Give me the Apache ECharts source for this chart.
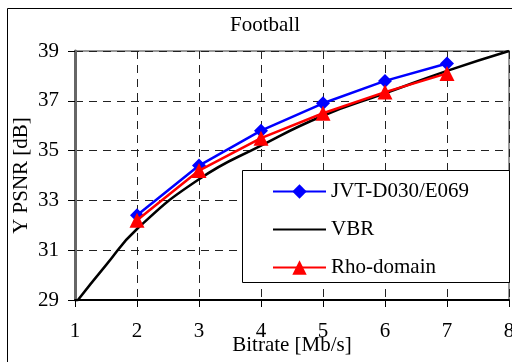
<!DOCTYPE html>
<html><head><meta charset="utf-8">
<script src="https://cdn.jsdelivr.net/npm/echarts@6/dist/echarts.min.js"></script>
<style>html,body{margin:0;padding:0;background:#fff}#c{width:512px;height:362px}</style>
</head><body><div id="c"></div>
<script>
const titleText = 'Football';
const seriesNames = ['JVT-D030/E069', 'VBR', 'Rho-domain'];
const jvtX = [2, 3, 4, 5, 6, 7];
const jvtY = [32.4, 34.4, 35.8, 36.9, 37.8, 38.5];
const rhoX = [2, 3, 4, 5, 6, 7];
const rhoY = [32.2, 34.2, 35.5, 36.5, 37.35, 38.1];
const vbrX = [1, 1.5, 2, 3, 4, 5, 6, 7, 8];
const vbrY = [28.85, 30.4, 31.85, 33.85, 35.2, 36.4, 37.3, 38.2, 39.0];
const xTicks = [1, 2, 3, 4, 5, 6, 7, 8];
const yTicks = [29, 31, 33, 35, 37, 39];

const zip = (a, b) => a.map((v, i) => [v, b[i]]);
const font = 'Liberation Serif, Times New Roman, serif';
const chart = echarts.init(document.getElementById('c'), null, {renderer: 'canvas'});
chart.setOption({
  animation: false,
  backgroundColor: '#fff',
  textStyle: {fontFamily: font},
  title: {text: titleText, left: 265, textAlign: 'center', top: 15, padding: 0,
    textStyle: {fontFamily: font, fontSize: 21, fontWeight: 'normal', color: '#000'}},
  grid: {left: 75, right: 3, top: 51, bottom: 62, outerBoundsMode: 'none', containLabel: false,
    show: true, borderColor: '#999', borderWidth: 2, backgroundColor: 'transparent'},
  xAxis: {
    type: 'value', min: 1, max: 8, interval: 1,
    name: 'Bitrate [Mb/s]', nameLocation: 'middle', nameGap: 35, nameMoveOverlap: false,
    nameTextStyle: {fontFamily: font, fontSize: 21, color: '#000', backgroundColor: '#fff', padding: [0, 2, 0, 2]},
    axisLine: {show: true, lineStyle: {color: '#000', width: 2}},
    axisTick: {show: true, length: 7, lineStyle: {color: '#000', width: 1}},
    axisLabel: {margin: 21, fontFamily: font, fontSize: 21, color: '#000', showMaxLabel: true, showMinLabel: true,
      formatter: v => xTicks.includes(v) ? String(v) : ''},
    splitLine: {show: true, lineStyle: {color: '#222', type: [8, 6], width: 1}}
  },
  yAxis: {
    type: 'value', min: 29, max: 39, interval: 2,
    name: 'Y PSNR [dB]', nameLocation: 'middle', nameGap: 43, nameMoveOverlap: false,
    nameTextStyle: {fontFamily: font, fontSize: 21, color: '#000'},
    axisLine: {show: true, lineStyle: {color: '#666', width: 3}},
    axisTick: {show: true, length: 7, lineStyle: {color: '#000', width: 1}},
    axisLabel: {margin: 16, fontFamily: font, fontSize: 21, color: '#000',
      formatter: v => yTicks.includes(v) ? String(v) : ''},
    splitLine: {show: true, lineStyle: {color: '#222', type: [8, 6], width: 1}}
  },
  legend: {
    orient: 'vertical', left: 272, top: 181, padding: 0,
    itemWidth: 53, itemHeight: 18, itemGap: 17,
    textStyle: {fontFamily: font, fontSize: 21, color: '#000', padding: [0, 0, 0, 0]},
    data: [
      {name: seriesNames[0]},
      {name: seriesNames[1], itemStyle: {opacity: 0}},
      {name: seriesNames[2]}
    ],
    z: 10
  },
  graphic: [
    {type: 'rect', shape: {x: 7.5, y: 8.5, width: 700, height: 700}, style: {fill: 'none', stroke: '#000', lineWidth: 1}, silent: true, z: 1},
    {type: 'rect', shape: {x: 242.5, y: 170.5, width: 267, height: 112}, style: {fill: '#fff', stroke: '#000', lineWidth: 1}, silent: true, z: 5}
  ],
  series: [
    {name: seriesNames[0], type: 'line', data: zip(jvtX, jvtY), symbol: 'diamond', symbolSize: 14,
      lineStyle: {color: '#0000ff', width: 2.5}, itemStyle: {color: '#0000ff'}, z: 2},
    {name: seriesNames[1], type: 'line', data: zip(vbrX, vbrY), smooth: true, showSymbol: false, symbol: 'none',
      lineStyle: {color: '#000', width: 2.5}, itemStyle: {color: '#000'}, z: 2},
    {name: seriesNames[2], type: 'line', data: zip(rhoX, rhoY), symbol: 'triangle', symbolSize: 15,
      lineStyle: {color: '#ff0000', width: 2.5}, itemStyle: {color: '#ff0000'}, z: 3}
  ]
});
</script></body></html>
